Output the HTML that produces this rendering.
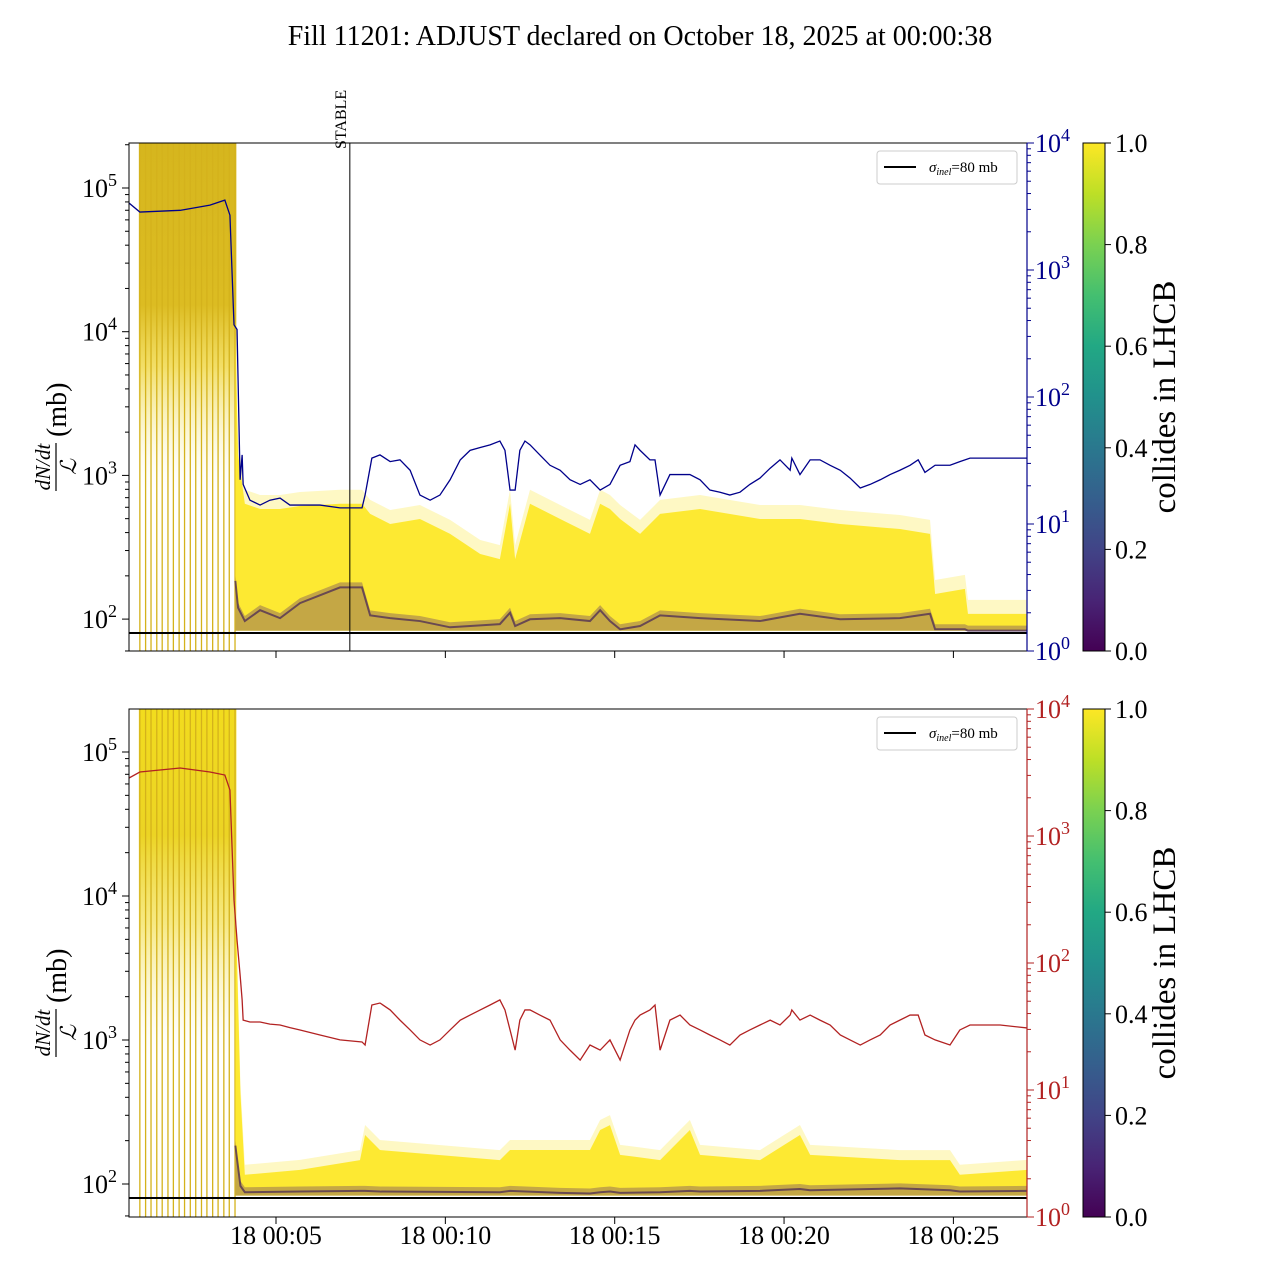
<!DOCTYPE html>
<html><head><meta charset="utf-8">
<style>
html,body{margin:0;padding:0;background:#fff;}
svg{display:block;font-family:"Liberation Serif",serif;}
</style></head>
<body>
<svg id="chart" width="1280" height="1280" viewBox="0 0 1280 1280" xmlns="http://www.w3.org/2000/svg">
<defs>
<clipPath id="clipTop"><rect x="129" y="143" width="898" height="508"/></clipPath>
<clipPath id="clipBot"><rect x="129" y="709" width="898" height="508"/></clipPath>
<linearGradient id="viridis" x1="0" y1="1" x2="0" y2="0">
<stop offset="0" stop-color="#440154"/><stop offset="0.1" stop-color="#482475"/><stop offset="0.2" stop-color="#414487"/><stop offset="0.3" stop-color="#355f8d"/><stop offset="0.4" stop-color="#2a788e"/><stop offset="0.5" stop-color="#21918c"/><stop offset="0.6" stop-color="#22a884"/><stop offset="0.7" stop-color="#44bf70"/><stop offset="0.8" stop-color="#7ad151"/><stop offset="0.9" stop-color="#bddf26"/><stop offset="1" stop-color="#fde725"/>
</linearGradient>
<linearGradient id="earlyTop" x1="0" y1="0" x2="0" y2="1">
<stop offset="0" stop-color="#d6b61e"/><stop offset="0.45" stop-color="#dcbc22"/><stop offset="0.62" stop-color="#efd640" stop-opacity="0.8"/><stop offset="0.85" stop-color="#f7ec9a" stop-opacity="0.25"/><stop offset="1" stop-color="#fff" stop-opacity="0"/>
</linearGradient>
<linearGradient id="earlyBot" x1="0" y1="0" x2="0" y2="1">
<stop offset="0" stop-color="#f2dc1e"/><stop offset="0.35" stop-color="#ecd424"/><stop offset="0.6" stop-color="#f3e050" stop-opacity="0.7"/><stop offset="0.85" stop-color="#f7ec9a" stop-opacity="0.2"/><stop offset="1" stop-color="#fff" stop-opacity="0"/>
</linearGradient>
</defs>
<text x="640" y="45" text-anchor="middle" font-size="28">Fill 11201: ADJUST declared on October 18, 2025 at 00:00:38</text>
<g id="topPanel"></g>
<g id="botPanel"></g>
</svg>
<script>
// ---- data ----
const lineTimes = [0.66,0.98,2.17,3.05,3.49,3.64,3.76,3.85,3.94,4.0,4.03,4.23,4.53,4.82,5.12,5.41,5.71,6.30,6.89,7.54,7.63,7.83,8.07,8.37,8.66,8.96,9.25,9.55,9.84,10.14,10.44,10.73,11.03,11.32,11.61,11.76,11.91,12.06,12.20,12.35,12.50,12.79,13.09,13.39,13.68,13.98,14.27,14.57,14.86,15.16,15.45,15.60,15.75,16.04,16.19,16.34,16.63,16.93,17.22,17.52,17.81,18.11,18.40,18.70,18.99,19.29,19.59,19.88,20.18,20.23,20.47,20.77,21.06,21.36,21.66,21.95,22.25,22.54,22.84,23.13,23.42,23.72,23.96,24.16,24.46,24.90,25.19,25.49,26.38,27.17];
const blueValues = [3370,2860,2950,3240,3550,2700,370,340,22.3,35,20.5,15.4,14.1,15.4,16,14.1,14.1,14.1,13.4,13.4,16.9,33,35,31,32,26.5,16.9,15.4,16.9,22.3,32,38,40,42,45,38,18.5,18.5,38,45,42,35,29,26.5,22.3,20.5,22.3,18.5,20.5,29,31,42,38,32,32,16.9,24.5,24.5,24.5,22.3,18.5,17.8,16.9,17.8,20.5,23,27.5,32,26.5,33,24.5,32,32,29,26.5,23,19.2,20.5,22.3,24.5,26.5,29,32,25.5,29,29,31,33,33,33];
const redValues = [2860,3190,3430,3190,3020,2300,313,151,80.5,51.2,35.5,34.3,34.3,33,32.5,31,29.7,27.1,24.8,23.9,22.6,46.7,48.4,42.7,35.5,29.7,24.8,22.6,24.8,29.7,35.5,38.9,42.7,46.7,51.2,42.7,29.7,20.6,35.5,42.7,42.7,38.9,35.5,24.8,20.6,17.2,22.6,20.6,24.8,17.2,29.7,35.5,38.9,42.7,46.7,20.6,35.5,38.9,32.5,29.7,27.1,24.8,22.6,27.1,29.7,32.5,35.5,32.5,38.9,42.7,35.5,38.9,35.5,32.5,27.1,24.8,22.6,24.8,27.1,32.5,35.5,38.9,38.9,27.1,24.8,22.6,29.7,32.5,32.5,30.8];

const topBandTimes = [3.80,3.88,4.08,4.53,5.12,5.71,6.89,7.54,7.78,8.37,9.25,10.14,11.03,11.61,11.91,12.06,12.50,13.39,14.27,14.57,14.86,15.16,15.75,16.34,17.52,19.29,20.47,21.66,23.42,24.31,24.46,25.34,25.43,27.17];
const topBandUpper = [12000,1760,795,731,731,767,795,795,675,574,622,490,355,327,795,327,795,622,490,795,731,622,490,675,731,622,622,574,530,490,187,203,136,136];
const topBandLower = [200,130,105,125,110,140,180,180,115,110,105,95,98,100,120,97,108,110,105,125,105,92,97,115,110,105,118,108,110,118,92,92,90,90];
const botBandTimes = [3.80,3.95,4.08,5.71,7.48,7.63,8.07,11.61,11.91,13.39,14.27,14.57,14.86,15.16,16.34,17.22,17.52,19.29,20.47,20.77,23.42,24.90,25.19,27.17];
const botBandUpper = [12000,500,136,147,172,257,202,172,202,202,202,278,301,187,172,278,187,172,257,187,172,172,136,147];
const botBandLower = [200,105,95,96,97,97,96,95,97,94,93,95,96,94,95,97,96,97,100,98,101,98,96,97];
const bandFloor = 83;
const spikeTimes = [0.98,1.15,1.31,1.48,1.64,1.81,1.97,2.14,2.30,2.47,2.63,2.80,2.96,3.13,3.29,3.46,3.62,3.79];
const xTickMinutes = [5,10,15,20,25];
const xTickLabels = ["18 00:05","18 00:10","18 00:15","18 00:20","18 00:25"];
const leftTickExp = [2,3,4,5];
const rightTickExp = [0,1,2,3,4];
const cbTicks = [0.0,0.2,0.4,0.6,0.8,1.0];
const sigmaInel = 80;
const stableTime = 7.18;
const earlyEnd = 3.80;

// ---- scales ----
const X0=129, X1=1027;
function xs(t){ return 276 + (t-5)*33.87; }
function makeLeft(top){ const ref = top===143 ? 188 : 752; const k = top===143?143.7:144; return v => ref - (Math.log10(v)-5)*k; }
function makeRight(top){ return v => top + (4-Math.log10(v))*127; }
const NS="http://www.w3.org/2000/svg";
function el(tag, attrs, parent){ const e=document.createElementNS(NS,tag); for(const k in attrs) e.setAttribute(k,attrs[k]); parent.appendChild(e); return e; }

function drawPanel(g, top, clipId, lineVals, lineColor, bandT, bandU, bandL, earlyGrad, showX, tag){
  const yl = makeLeft(top), yr = makeRight(top), bot = top+508;
  const cg = el('g',{'clip-path':'url(#'+clipId+')'},g);
  const er = el('rect',{x:xs(spikeTimes[0])-1,y:top,width:xs(earlyEnd)-xs(spikeTimes[0])+2,height:360,fill:'url(#'+earlyGrad+')'},cg);
  
  
  spikeTimes.forEach(t=>{
    const l = el('line',{x1:xs(t),x2:xs(t),y1:top,y2:bot,stroke:'#d4b21c','stroke-width':1.3},cg);
    
    
  });
  // yellow band faint envelope
  let d='M'+bandT.map((t,i)=>xs(t)+','+yl(bandU[i])).join(' L');
  for(let i=bandT.length-1;i>=0;i--) d+=' L'+xs(bandT[i])+','+yl(bandFloor);
  const faint = el('path',{d:d,fill:'#fbe93a','fill-opacity':0.3},cg);
  
  
  let d2='M'+bandT.map((t,i)=>xs(t)+','+(yl(bandU[i])+ (top===143?14:10))).join(' L');
  for(let i=bandT.length-1;i>=0;i--) d2+=' L'+xs(bandT[i])+','+yl(bandFloor);
  const band = el('path',{d:d2,fill:'#fde725','fill-opacity':0.92},cg);
  
  
  // purple band overlay
  let d3='M'+bandT.map((t,i)=>xs(t)+','+yl(bandL[i])).join(' L');
  for(let i=bandT.length-1;i>=0;i--) d3+=' L'+xs(bandT[i])+','+yl(bandFloor);
  const pb = el('path',{d:d3,fill:'#5a2e6a','fill-opacity':0.35},cg);
  
  
  const pl = el('path',{d:'M'+bandT.map((t,i)=>xs(t)+','+(yl(bandL[i])+5)).join(' L'),fill:'none',stroke:'#4b2a55','stroke-width':2,'stroke-opacity':0.75},cg);
  
  
  const sl = el('line',{x1:X0,x2:X1,y1:yl(sigmaInel),y2:yl(sigmaInel),stroke:'#000','stroke-width':2},cg);
  
  
  const rl = el('path',{d:'M'+lineTimes.map((t,i)=>xs(t)+','+yr(lineVals[i])).join(' L'),fill:'none',stroke:lineColor,'stroke-width':1.3},cg);
  
  
  const fr = el('rect',{x:X0,y:top,width:X1-X0,height:508,fill:'none',stroke:'#000','stroke-width':1},g);
  
  
  el('line',{x1:X1,x2:X1,y1:top,y2:bot,stroke:lineColor,'stroke-width':1.2},g);
  leftTickExp.forEach(e=>{
    const y=yl(Math.pow(10,e));
    el('line',{x1:X0-7,x2:X0,y1:y,y2:y,stroke:'#000'},g);
    const tx = el('text',{x:X0-12,y:y+9,'text-anchor':'end','font-size':26},g);
    tx.innerHTML='10<tspan dy="-11" font-size="18">'+e+'</tspan>';
    
    
    for(let m=2;m<10;m++){ const ym=yl(m*Math.pow(10,e)); if(ym>top&&ym<bot) el('line',{x1:X0-4,x2:X0,y1:ym,y2:ym,stroke:'#000'},g); }
  });
  { const ym=yl(60); if(ym<bot) el('line',{x1:X0-4,x2:X0,y1:ym,y2:ym,stroke:'#000'},g); }
  rightTickExp.forEach(e=>{
    const y=yr(Math.pow(10,e));
    el('line',{x1:X1,x2:X1+7,y1:y,y2:y,stroke:lineColor},g);
    const tx = el('text',{x:X1+8,y:y+9,'font-size':26,fill:lineColor},g);
    tx.innerHTML='10<tspan dy="-11" font-size="18">'+e+'</tspan>';
    
    
    if(e<4) for(let m=2;m<10;m++){ const ym=yr(m*Math.pow(10,e)); el('line',{x1:X1,x2:X1+4,y1:ym,y2:ym,stroke:lineColor},g); }
  });
  xTickMinutes.forEach((m,i)=>{
    const x=xs(m);
    el('line',{x1:x,x2:x,y1:bot,y2:bot+7,stroke:'#000'},g);
    if(showX){
      const tx = el('text',{x:x,y:bot+27,'text-anchor':'middle','font-size':26},g);
      tx.textContent=xTickLabels[i];
      
      
    }
  });
  const yc = top+254;
  const lab = el('g',{transform:'translate(58,'+yc+') rotate(-90)'},g);
  
  
  const n = el('text',{x:-70,y:-8,'text-anchor':'middle','font-size':21,'font-style':'italic'},lab); n.textContent='dN/dt';
  el('line',{x1:-94,x2:-46,y1:-2,y2:-2,stroke:'#000','stroke-width':1.2},lab);
  const dn = el('text',{x:-70,y:18,'text-anchor':'middle','font-size':22,'font-style':'italic','font-family':'DejaVu Serif, serif'},lab); dn.textContent='ℒ';
  const mb = el('text',{x:-40,y:8,'font-size':28},lab); mb.textContent='(mb)';
  const lg = el('g',{},g);
  
  
  el('rect',{x:877,y:top+8,width:140,height:33,rx:3,fill:'#fff',stroke:'#ccc'},lg);
  el('line',{x1:884,x2:916,y1:top+24,y2:top+24,stroke:'#000','stroke-width':2},lg);
  const lt = el('text',{x:929,y:top+29,'font-size':15},lg);
  lt.innerHTML='<tspan font-style="italic">σ</tspan><tspan font-style="italic" font-size="10" dy="3">inel</tspan><tspan dy="-3">=80 mb</tspan>';
  const cb = el('rect',{x:1083,y:top,width:22,height:508,fill:'url(#viridis)',stroke:'#000','stroke-width':1},g);
  
  
  cbTicks.forEach(v=>{
    const y = bot - v*508;
    el('line',{x1:1105,x2:1111,y1:y,y2:y,stroke:'#000'},g);
    const tx = el('text',{x:1115,y:y+9,'font-size':26},g);
    tx.textContent=v.toFixed(1);
    
    
  });
  const ct = el('text',{transform:'translate(1175,'+yc+') rotate(-90)','text-anchor':'middle','font-size':33},g);
  ct.textContent='collides in LHCB';
  
  
}
const gt=document.getElementById('topPanel'), gb=document.getElementById('botPanel');
drawPanel(gt,143,'clipTop',blueValues,'#00008b',topBandTimes,topBandUpper,topBandLower,'earlyTop',false,'top');
drawPanel(gb,709,'clipBot',redValues,'#b22222',botBandTimes,botBandUpper,botBandLower,'earlyBot',true,'bottom');
const sx = xs(stableTime);
const sLine = el('line',{x1:sx,x2:sx,y1:143,y2:651,stroke:'#000','stroke-width':1},gt);


const sTxt = el('text',{transform:'translate('+(sx-4)+',149) rotate(-90)','font-size':16},gt);
sTxt.textContent='STABLE';


</script>
</body></html>
